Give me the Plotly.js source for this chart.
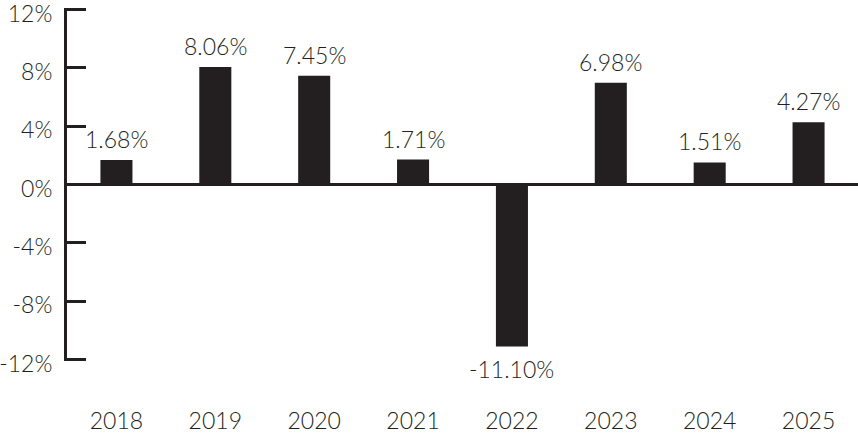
<!DOCTYPE html>
<html>
<head>
<meta charset="utf-8">
<script src="https://cdn.plot.ly/plotly-3.0.1.min.js"></script>
<style>html,body{margin:0;padding:0;background:#fff;}#chart{width:858px;height:436px;}</style>
</head>
<body>
<div id="chart"></div>
<script>
const years = ['2018','2019','2020','2021','2022','2023','2024','2025'];
const returns = [1.68, 8.06, 7.45, 1.71, -11.10, 6.98, 1.51, 4.27];
const valueLabels = ['1.68%','8.06%','7.45%','1.71%','-11.10%','6.98%','1.51%','4.27%'];
const yTickVals = [-12, -8, -4, 0, 4, 8, 12];
const yTickText = ['-12%','-8%','-4%','0%','4%','8%','12%'];

const ink = '#231f20';
const fontFamily = 'Lato, "Open Sans", sans-serif';
const fontSize = 23;

const annotations = years.map((y, i) => ({
  xref: 'x', yref: 'y',
  x: i, y: returns[i], text: valueLabels[i], showarrow: false,
  xanchor: 'center', yanchor: returns[i] >= 0 ? 'bottom' : 'top',
  yshift: returns[i] >= 0 ? 5 : -7,
  font: {family: fontFamily, size: fontSize, color: ink, weight: 300}
}));

Plotly.newPlot('chart', [{
  type: 'bar', x: years, y: returns,
  marker: {color: ink, line: {width: 0}},
  hoverinfo: 'skip'
}], {
  width: 858, height: 436,
  margin: {l: 67, r: 0, t: 8, b: 75},
  paper_bgcolor: '#fff', plot_bgcolor: '#fff',
  bargap: 0.676,
  showlegend: false,
  font: {family: fontFamily, size: fontSize, color: ink, weight: 300},
  xaxis: {
    type: 'category', range: [-0.5, 7.5],
    showgrid: false, zeroline: false, showline: false,
    ticks: '', ticklabelstandoff: 44,
    tickfont: {family: fontFamily, size: fontSize, color: ink, weight: 300}
  },
  yaxis: {
    range: [-12.1, 12.1], tickvals: yTickVals, ticktext: yTickText,
    showgrid: false, showline: true, linewidth: 3, linecolor: ink,
    ticks: 'inside', ticklen: 19, tickwidth: 3, tickcolor: ink,
    zeroline: true, zerolinewidth: 3, zerolinecolor: ink,
    ticklabelstandoff: 7, ticklabelshift: 4, ticklabeloverflow: 'allow',
    tickfont: {family: fontFamily, size: fontSize, color: ink, weight: 300}
  },
  annotations: annotations
}, {staticPlot: true, displayModeBar: false});
</script>
</body>
</html>
